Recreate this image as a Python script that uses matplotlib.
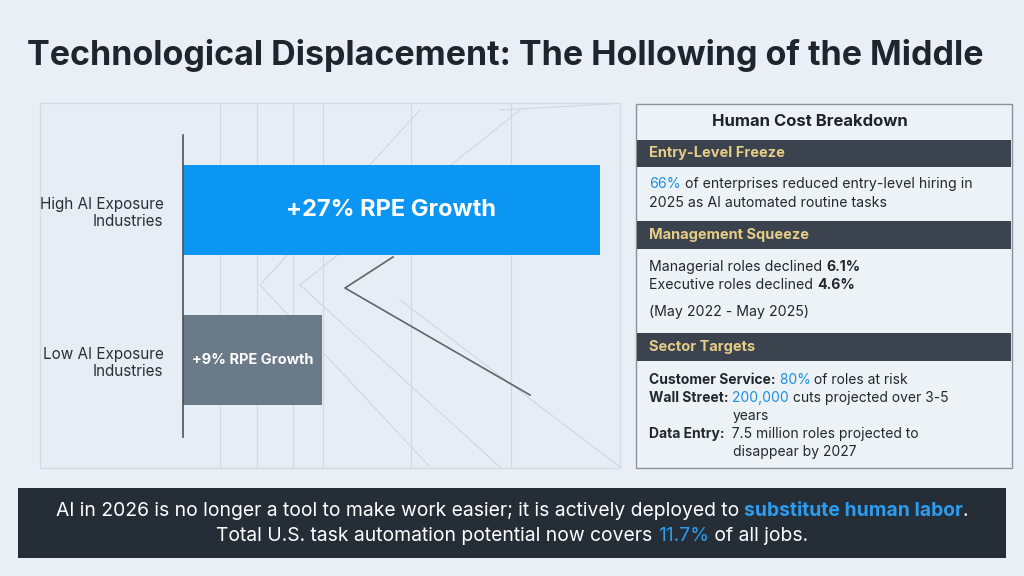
import matplotlib
matplotlib.use("Agg")
import matplotlib.pyplot as plt
from matplotlib.patches import Rectangle
from matplotlib.lines import Line2D

plt.rcParams['font.family'] = ['Inter', 'DejaVu Sans']

categories = ["Low AI Exposure\nIndustries", "High AI Exposure\nIndustries"]
values = [9, 27]
bar_labels = ["+9% RPE Growth", "+27% RPE Growth"]
bar_colors = ["#6b7a89", "#0a96f2"]

W, H = 1024, 576
fig = plt.figure(figsize=(W/100, H/100), dpi=100)
fig.patch.set_facecolor("#e9eff5")

def fx(x): return x / W
def fy(y): return 1 - y / H

def rect(x0, y0, x1, y1, **kw):
    fig.patches.append(Rectangle((fx(x0), fy(y1)), fx(x1) - fx(x0), fy(y0) - fy(y1),
                                 transform=fig.transFigure, **kw))

def line(xs, ys, **kw):
    fig.lines.append(Line2D([fx(x) for x in xs], [fy(y) for y in ys], transform=fig.transFigure, **kw))

# Title
fig.text(fx(505), fy(55), "Technological Displacement: The Hollowing of the Middle",
         ha="center", va="center", fontsize=24.5, fontweight="bold", color="#1e252c")

# left panel border
rect(40, 103, 620, 468, facecolor="#e6edf4", edgecolor="#d3dbe3", lw=1)
for vx in [220, 257, 293, 323, 411, 511]:
    line([vx, vx], [104, 467], color="#d0d8e0", lw=0.8)
gl = dict(color="#cfd7df", lw=0.8)
line([260, 420], [285, 110], **gl)
line([300, 520], [285, 110], **gl)
line([260, 430], [285, 467], **gl)
line([300, 500], [285, 467], **gl)
line([400, 620], [300, 467], **gl)
line([500, 610], [110, 104], **gl)
line([530, 345, 393], [395, 288, 257], color="#5c6670", lw=1.2)

# bar chart
ax = fig.add_axes([fx(183), fy(437), fx(600) - fx(183), fy(135) - fy(437)])
ax.set_zorder(3)
ax.set_facecolor("none")
ypos = [0, 1]
ax.barh(ypos, values, height=0.6, color=bar_colors)
ax.set_xlim(0, 27)
ax.set_ylim(-0.51, 1.5)
ax.set_yticks(ypos)
ax.set_yticklabels(categories, fontsize=11, color="#2a3036", ha="right", multialignment="right")
ax.tick_params(axis="y", length=0, pad=14)
ax.set_xticks([])
for s in ["top", "right", "bottom"]:
    ax.spines[s].set_visible(False)
ax.spines["left"].set_color("#4a525a")
ax.spines["left"].set_linewidth(1.2)
ax.text(values[1] / 2, 1, bar_labels[1], ha="center", va="center", fontsize=17,
        fontweight="bold", color="white")
ax.text(values[0] / 2, 0, bar_labels[0], ha="center", va="center", fontsize=10.5,
        fontweight="bold", color="white")

# right panel
rect(636, 104, 1012, 468, facecolor="#edf2f7", edgecolor="#8a949e", lw=1)
fig.text(fx(810), fy(122), "Human Cost Breakdown", ha="center", va="center",
         fontsize=12, fontweight="bold", color="#1e252c")
headers = [("Entry-Level Freeze", 140, 167), ("Management Squeeze", 221, 249),
           ("Sector Targets", 333, 361)]
for t, y0, y1 in headers:
    rect(637, y0, 1011, y1, facecolor="#3b444e", edgecolor="none")
    fig.text(fx(649), fy((y0 + y1) / 2), t, ha="left", va="center", fontsize=10.5,
             fontweight="bold", color="#e6cc86")

fig.canvas.draw()
r = fig.canvas.get_renderer()

def rich(x, y, parts, fs=10):
    for txt, col, bold in parts:
        t = fig.text(fx(x), fy(y), txt, ha="left", va="center", fontsize=fs,
                     color=col, fontweight="bold" if bold else "normal")
        bb = t.get_window_extent(r)
        x += bb.width

DK, BL = "#22282e", "#1b8fe0"
rich(649, 184, [("66%", BL, False), (" of enterprises reduced entry-level hiring in", DK, False)], fs=10.2)
rich(649, 203, [("2025 as AI automated routine tasks", DK, False)], fs=10.2)
rich(649, 267, [("Managerial roles declined ", DK, False), ("6.1%", DK, True)], fs=10.2)
rich(649, 285, [("Executive roles declined ", DK, False), ("4.6%", DK, True)], fs=10.2)
rich(649, 312, [("(May 2022 - May 2025)", DK, False)], fs=10.2)
rich(649, 380, [("Customer Service:", DK, True), (" 80%", BL, False), (" of roles at risk", DK, False)], fs=10)
rich(649, 398, [("Wall Street:", DK, True), (" 200,000", BL, False), (" cuts projected over 3-5", DK, False)], fs=10)
rich(733, 416, [("years", DK, False)], fs=10)
rich(649, 434, [("Data Entry:", DK, True), ("  7.5 million roles projected to", DK, False)], fs=10)
rich(733, 452, [("disappear by 2027", DK, False)], fs=10)

# bottom banner
rect(18, 488, 1006, 558, facecolor="#252d37", edgecolor="none")
line1 = [("AI in 2026 is no longer a tool to make work easier; it is actively deployed to ", "white", False),
         ("substitute human labor", "#2b9cf0", True), (".", "white", False)]
line2 = [("Total U.S. task automation potential now covers ", "white", False),
         ("11.7%", "#2b9cf0", False), (" of all jobs.", "white", False)]
BFS = 13.9
for parts, y in [(line1, 511), (line2, 536)]:
    widths = []
    for txt, col, b in parts:
        t = fig.text(0, 0, txt, fontsize=BFS, fontweight="bold" if b else "normal")
        widths.append(t.get_window_extent(r).width)
        t.remove()
    rich(512 - sum(widths) / 2, y, parts, fs=BFS)

fig.savefig("out.png", dpi=100, facecolor=fig.get_facecolor())
